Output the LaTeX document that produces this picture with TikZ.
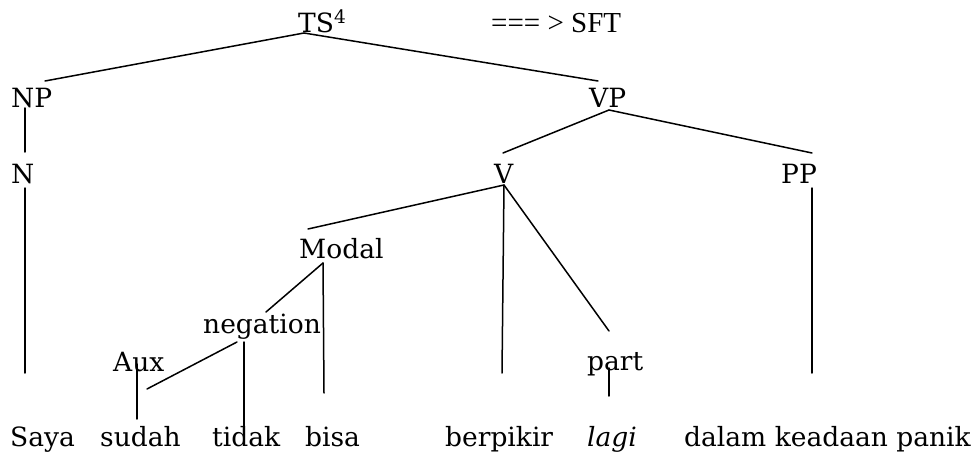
\documentclass[tikz,border=0pt]{standalone}
\usepackage{fontspec}
\setmainfont{DejaVu Serif}
\newfontfamily\arrowfont{Liberation Serif}
\begin{document}
\begin{tikzpicture}[x=1pt,y=-1pt,
  lbl/.style={inner sep=0pt, anchor=base west, font=\fontsize{26.5}{30}\selectfont},
  arr/.style={inner sep=0pt, anchor=base west, font=\arrowfont\fontsize{29}{33}\selectfont},
  branch/.style={line width=1.5pt, line cap=round}]
\useasboundingbox (0,0) rectangle (978,452);

% category labels
\node[lbl] (TS) at (298,33) {TS\textsuperscript{4}};
\node[arr] (SFT) at (491,33) {=== > SFT};
\node[lbl] (NP) at (11,107) {NP};
\node[lbl] (VP) at (589,107) {VP};
\node[lbl] (N) at (11,183) {N};
\node[lbl] (V) at (494,183) {V};
\node[lbl] (PP) at (781,183) {PP};
\node[lbl] (Modal) at (299,258) {Modal};
\node[lbl] (neg) at (203,333) {negation};
\node[lbl] (Aux) at (113,371) {Aux};
\node[lbl] (part) at (587,370) {part};

% words of the sentence
\node[lbl] (saya) at (10,446) {Saya};
\node[lbl] (sudah) at (100,446) {sudah};
\node[lbl] (tidak) at (212,446) {tidak};
\node[lbl] (bisa) at (305,446) {bisa};
\node[lbl] (berpikir) at (445,446) {berpikir};
\node[lbl] (lagi) at (587,446) {\itshape lagi};
\node[lbl] (dalam) at (684,446) {dalam keadaan panik};

% branch end points
\coordinate (TS-f) at (304,33);
\coordinate (NP-h) at (45,81);
\coordinate (VP-h) at (598,81);
\coordinate (NP-f) at (25,108);
\coordinate (N-h) at (25,152);
\coordinate (VP-f) at (609,110);
\coordinate (V-h) at (503,153);
\coordinate (PP-h) at (812,153);
\coordinate (N-f) at (25,188);
\coordinate (saya-h) at (25,373);
\coordinate (PP-f) at (812,188);
\coordinate (dalam-h) at (812,373);
\coordinate (V-f) at (504,185);
\coordinate (Modal-h) at (308,229);
\coordinate (berpikir-h) at (502,373);
\coordinate (part-h) at (609,331);
\coordinate (Modal-f) at (323,263);
\coordinate (neg-h) at (266,312);
\coordinate (bisa-h) at (324,393);
\coordinate (neg-f) at (237,342);
\coordinate (sudah-t) at (147,389);
\coordinate (neg-v) at (244,342);
\coordinate (tidak-h) at (244,432);
\coordinate (Aux-f) at (137,364);
\coordinate (sudah-h) at (137,419);
\coordinate (part-f) at (609,368);
\coordinate (lagi-h) at (609,396);

% branches
\draw[branch] (TS-f) -- (NP-h);
\draw[branch] (TS-f) -- (VP-h);
\draw[branch] (NP-f) -- (N-h);
\draw[branch] (VP-f) -- (V-h);
\draw[branch] (VP-f) -- (PP-h);
\draw[branch] (N-f) -- (saya-h);
\draw[branch] (PP-f) -- (dalam-h);
\draw[branch] (V-f) -- (Modal-h);
\draw[branch] (V-f) -- (berpikir-h);
\draw[branch] (V-f) -- (part-h);
\draw[branch] (Modal-f) -- (neg-h);
\draw[branch] (Modal-f) -- (bisa-h);
\draw[branch] (neg-f) -- (sudah-t);
\draw[branch] (neg-v) -- (tidak-h);
\draw[branch] (Aux-f) -- (sudah-h);
\draw[branch] (part-f) -- (lagi-h);
\end{tikzpicture}
\end{document}
